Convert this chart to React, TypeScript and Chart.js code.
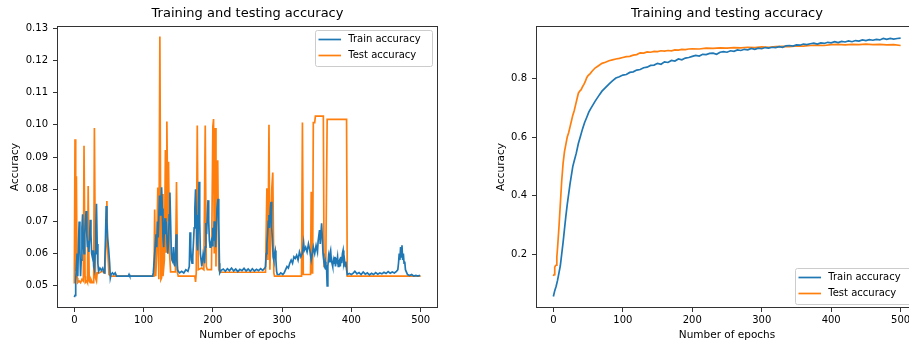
import React, { useEffect, useRef } from "react";
import { Chart, registerables } from "chart.js";
Chart.register(...registerables);

const FONT = "'DejaVu Sans', sans-serif";
const BLUE = "#1f77b4";
const ORANGE = "#ff7f0e";
const TITLE = "Training and testing accuracy";
const X_LABEL = "Number of epochs";
const Y_LABEL = "Accuracy";
const SERIES_NAMES = ["Train accuracy", "Test accuracy"];

const xTicks = [0, 100, 200, 300, 400, 500];
const leftYTicks = [0.05, 0.06, 0.07, 0.08, 0.09, 0.1, 0.11, 0.12, 0.13];
const rightYTicks = [0.2, 0.4, 0.6, 0.8];

// ---- Left chart: train accuracy ----
const leftTrainEpochs = [
  0, 1, 2, 3, 4, 5, 6, 7, 8, 9, 10, 11, 12, 13, 14, 15, 16, 17, 18, 19, 20, 21, 22, 23, 24, 25, 26, 27, 28, 29, 30, 31, 32, 33, 34, 35, 37, 39, 41, 43, 44, 45, 46, 47, 48, 49.5, 51, 52, 53, 55, 57, 59, 61, 78, 79, 80, 113,
  114, 116, 118, 119, 120, 121, 123, 124, 125, 126, 127, 128, 129, 130, 131, 132, 133, 134, 135, 136, 137, 138, 139, 140, 141, 142, 143, 144, 145, 146, 147, 148, 149, 150, 152, 155, 158, 161, 164, 166, 167, 168, 169, 170, 171, 173, 174, 175, 176, 177, 178, 179, 180, 181, 182, 183, 184, 185, 186, 187, 188, 189, 190, 191, 192, 193, 194, 195, 196, 197, 198, 199, 200, 201, 202, 203, 204, 205, 206, 207.5, 208.5, 209.5, 210,
  212, 215, 218, 221, 224, 227, 230, 233, 236, 239, 242, 245, 248, 251, 254, 257, 260, 263, 266, 269, 272, 275,
  276, 277, 278, 279, 280, 281, 282, 283, 284, 285, 286, 287, 288, 289, 290, 291, 292, 293, 296, 298, 301, 303, 305, 307, 309, 311, 313, 315, 317, 319, 321, 323, 325, 327, 329, 331, 332, 334, 336, 338, 340, 342, 344, 345, 347, 349, 351, 352, 354, 355, 357, 358, 359, 360, 361, 362, 363, 364, 365, 366, 367, 368, 369, 370, 371, 372, 373, 374, 375, 376, 377, 378, 379, 380, 381, 382, 383, 384, 385, 386, 387, 388, 389, 390, 391, 392, 393, 394,
  397, 400, 403, 405, 408, 411, 414, 417, 420, 423, 426, 429, 432, 435, 438, 441, 444, 447, 450, 453, 456, 459, 462, 465, 467, 468, 469, 470, 471, 472, 473, 474, 475, 476, 477, 478, 479, 481, 484, 487, 490, 493, 496, 499,
];
const leftTrainAcc = [
  0.0465, 0.047, 0.052, 0.056, 0.06, 0.053, 0.063, 0.07, 0.062, 0.053, 0.058, 0.068, 0.0722, 0.063, 0.06, 0.066, 0.07, 0.0732, 0.066, 0.062, 0.064, 0.0605, 0.065, 0.0705, 0.066, 0.06, 0.059, 0.061, 0.056, 0.055, 0.06, 0.068, 0.0755, 0.063, 0.057, 0.0545, 0.0555, 0.0548, 0.0555, 0.054, 0.057, 0.065, 0.0748, 0.07, 0.065, 0.0616, 0.057, 0.0525, 0.0535, 0.054, 0.0535, 0.054, 0.053, 0.053, 0.0535, 0.053, 0.053,
  0.054, 0.06, 0.066, 0.062, 0.07, 0.065, 0.078, 0.072, 0.076, 0.0806, 0.074, 0.065, 0.062, 0.068, 0.071, 0.066, 0.07, 0.063, 0.06, 0.064, 0.072, 0.079, 0.07, 0.06, 0.058, 0.0575, 0.062, 0.058, 0.056, 0.06, 0.066, 0.058, 0.055, 0.0545, 0.054, 0.0545, 0.054, 0.055, 0.0545, 0.056, 0.0666, 0.062, 0.058, 0.057, 0.059, 0.068, 0.074, 0.08, 0.072, 0.063, 0.061, 0.07, 0.0823, 0.07, 0.06, 0.058, 0.056, 0.058, 0.06, 0.059, 0.057, 0.062, 0.0695, 0.066, 0.072, 0.0766, 0.07, 0.064, 0.062, 0.063, 0.064, 0.0625, 0.068, 0.064, 0.07, 0.066, 0.062, 0.068, 0.074, 0.077, 0.07, 0.057, 0.054,
  0.0548, 0.0552, 0.0545, 0.0553, 0.0547, 0.0555, 0.0546, 0.0552, 0.0544, 0.0551, 0.0547, 0.0554, 0.0546, 0.0552, 0.0545, 0.0553, 0.0546, 0.0551, 0.0547, 0.0553, 0.0548, 0.0555,
  0.056, 0.06, 0.063, 0.066, 0.07, 0.072, 0.068, 0.074, 0.0761, 0.068, 0.064, 0.059, 0.058, 0.06, 0.061, 0.058, 0.0545, 0.0535, 0.0535, 0.054, 0.0535, 0.054, 0.055, 0.056, 0.0555, 0.057, 0.058, 0.057, 0.059, 0.0585, 0.0595, 0.058, 0.0605, 0.059, 0.06, 0.0634, 0.061, 0.062, 0.0605, 0.063, 0.061, 0.058, 0.0605, 0.062, 0.06, 0.0625, 0.0605, 0.064, 0.0673, 0.063, 0.0694, 0.065, 0.06, 0.058, 0.0565, 0.0575, 0.055, 0.0564, 0.05, 0.056, 0.059, 0.0575, 0.06, 0.061, 0.058, 0.057, 0.056, 0.058, 0.057, 0.059, 0.056, 0.058, 0.0575, 0.059, 0.056, 0.0575, 0.058, 0.056, 0.059, 0.057, 0.06, 0.061, 0.057, 0.058, 0.056, 0.0575, 0.055, 0.0535,
  0.0538, 0.0535, 0.054, 0.0545, 0.0537, 0.0541, 0.0535, 0.0543, 0.0536, 0.054, 0.0534, 0.0539, 0.0535, 0.0541, 0.0536, 0.054, 0.0537, 0.0542, 0.0538, 0.0544, 0.0539, 0.0543, 0.054, 0.0545, 0.055, 0.057, 0.06, 0.058, 0.062, 0.059, 0.0626, 0.058, 0.06, 0.057, 0.0575, 0.055, 0.0545, 0.0535, 0.0532, 0.0535, 0.053, 0.0532, 0.053, 0.0533,
];

// ---- Left chart: test accuracy ----
const leftTestEpochs = [
  0, 1, 2, 3, 4, 5, 7, 9, 11, 13, 14, 15.5, 16, 18, 19, 20, 21.5, 23, 24, 26, 28, 29, 30.5, 32, 33, 36, 40, 44, 46, 47, 48, 50, 53, 115,
  116, 117.5, 119, 120.5, 122, 123.5, 125, 126, 127, 128, 130, 131.5, 132.5, 133.6, 135, 136, 137.5, 139, 146, 147.5, 149, 150, 174, 175, 176, 177.5, 179, 184, 187, 189, 190.5, 192, 198, 200, 201, 202, 203.5, 204.5, 205.5, 207, 208.5, 210,
  276, 278, 279.5, 281, 282.3, 283, 285, 286.5, 288, 289, 328, 329.3, 330.5, 341, 342, 343, 344, 345, 347, 348, 359.5, 360.5, 363, 365, 393, 394, 500,
];
const leftTestAcc = [
  0.0507, 0.0955, 0.0545, 0.084, 0.0525, 0.051, 0.0515, 0.051, 0.052, 0.0515, 0.0935, 0.053, 0.051, 0.0515, 0.051, 0.081, 0.0515, 0.051, 0.052, 0.051, 0.051, 0.099, 0.0525, 0.0515, 0.054, 0.054, 0.0545, 0.054, 0.065, 0.0763, 0.062, 0.0535, 0.053, 0.053,
  0.0737, 0.053, 0.06, 0.0805, 0.052, 0.1274, 0.052, 0.0525, 0.0785, 0.053, 0.058, 0.0922, 0.0605, 0.101, 0.07, 0.0885, 0.06, 0.0543, 0.0543, 0.0822, 0.054, 0.053, 0.053, 0.0512, 0.054, 0.0998, 0.055, 0.0555, 0.055, 0.0998, 0.056, 0.055, 0.055, 0.0995, 0.1018, 0.06, 0.099, 0.056, 0.077, 0.089, 0.055, 0.0542,
  0.0542, 0.0803, 0.058, 0.1, 0.055, 0.06, 0.08, 0.0852, 0.054, 0.053, 0.053, 0.1007, 0.0535, 0.0535, 0.0792, 0.054, 0.054, 0.1007, 0.1007, 0.1027, 0.1027, 0.056, 0.056, 0.1017, 0.1017, 0.053, 0.053,
];

// ---- Right chart: train accuracy ----
const rightTrainEpochs = [
  0, 2, 4, 6, 8, 10, 12, 14, 16, 18, 20, 22, 24, 26, 28, 30, 33, 36, 39, 42, 45, 48, 51, 54, 57, 60, 65, 70, 75, 80, 85, 90, 95, 100,
  105, 110, 115, 120, 125, 130, 135, 140, 145, 150, 155, 160, 165, 170, 175, 180, 185, 190, 195, 200, 205, 210, 215, 220, 225, 230, 235, 240, 245, 250,
  255, 260, 265, 270, 275, 280, 285, 290, 295, 300, 305, 310, 315, 320, 325, 330, 335, 340, 345, 350, 355, 360, 365, 370, 375, 380, 385, 390, 395, 400,
  405, 410, 415, 420, 425, 430, 435, 440, 445, 450, 455, 460, 465, 470, 475, 480, 485, 490, 495, 500,
];
const rightTrainAcc = [
  0.055, 0.075, 0.09, 0.11, 0.135, 0.16, 0.2, 0.24, 0.285, 0.33, 0.37, 0.405, 0.44, 0.47, 0.5, 0.518, 0.545, 0.578, 0.603, 0.628, 0.65, 0.667, 0.685, 0.698, 0.71, 0.722, 0.74, 0.757, 0.769, 0.781, 0.792, 0.802, 0.806, 0.812,
  0.814, 0.821, 0.823, 0.829, 0.831, 0.837, 0.839, 0.845, 0.846, 0.852, 0.849, 0.857, 0.855, 0.862, 0.86, 0.867, 0.864, 0.87, 0.872, 0.876, 0.879, 0.877, 0.883, 0.882, 0.886, 0.887, 0.883, 0.89, 0.892, 0.89,
  0.895, 0.893, 0.898, 0.896, 0.9, 0.898, 0.903, 0.9, 0.904, 0.902, 0.906, 0.904, 0.907, 0.906, 0.909, 0.907, 0.912, 0.913, 0.911, 0.915, 0.914, 0.918, 0.916, 0.919, 0.921, 0.918, 0.922, 0.92, 0.924, 0.922,
  0.926, 0.923, 0.927, 0.925, 0.929, 0.926, 0.93, 0.928, 0.932, 0.93, 0.933, 0.931, 0.934, 0.932, 0.937, 0.934, 0.937, 0.935, 0.937, 0.938,
];

// ---- Right chart: test accuracy ----
const rightTestEpochs = [
  0, 1, 2, 3, 4, 5, 6, 8, 10, 12, 14, 16, 18, 20, 22, 24, 26, 28, 30, 32, 34, 36, 38, 40, 42, 44, 46, 48, 50, 53, 56, 60, 65, 70, 75, 80, 85, 90, 95, 100,
  105, 110, 115, 120, 125, 130, 135, 140, 145, 150, 155, 160, 165, 170, 175, 180, 185, 190, 195, 200,
  210, 220, 230, 240, 250, 260, 270, 280, 290, 300, 310, 320, 330, 340, 350, 360, 370, 380, 390, 400,
  410, 420, 430, 440, 450, 460, 470, 480, 490, 500,
];
const rightTestAcc = [
  0.125, 0.13, 0.155, 0.16, 0.162, 0.19, 0.22, 0.29, 0.37, 0.45, 0.51, 0.55, 0.575, 0.6, 0.615, 0.635, 0.655, 0.675, 0.69, 0.71, 0.73, 0.75, 0.757, 0.762, 0.772, 0.78, 0.79, 0.803, 0.81, 0.817, 0.826, 0.836, 0.844, 0.852, 0.856, 0.861, 0.864, 0.867, 0.869, 0.872,
  0.875, 0.876, 0.88, 0.882, 0.888, 0.887, 0.891, 0.89, 0.893, 0.892, 0.895, 0.894, 0.896, 0.895, 0.898, 0.897, 0.9, 0.899, 0.901, 0.902,
  0.901, 0.904, 0.903, 0.905, 0.904, 0.906, 0.905, 0.907, 0.906, 0.908, 0.907, 0.909, 0.91, 0.909, 0.912, 0.911, 0.913, 0.914, 0.913, 0.916,
  0.917, 0.915, 0.917, 0.916, 0.918, 0.916, 0.917, 0.915, 0.916, 0.913,
];

const toPoints = (xs: number[], ys: number[]) => xs.map((x, i) => ({ x, y: ys[i] }));

const framePlugin = {
  id: "frame",
  afterDatasetsDraw(chart: any) {
    const { ctx, chartArea: a } = chart;
    ctx.save();
    ctx.strokeStyle = "#333333";
    ctx.lineWidth = 1;
    ctx.strokeRect(Math.round(a.left) + 0.5, Math.round(a.top) + 0.5, Math.round(a.right - a.left) - 1, Math.round(a.bottom - a.top) - 1);
    ctx.restore();
  },
};

const boxLegendPlugin = {
  id: "boxLegend",
  afterDraw(chart: any, _args: any, opts: any) {
    const { ctx, chartArea: a } = chart;
    const w = 117;
    const h = 36;
    const x = Math.round(a.right - 5.7 - w);
    const y = Math.round(opts.position === "bottom" ? a.bottom - 4 - h : a.top + 4);
    ctx.save();
    ctx.beginPath();
    if (ctx.roundRect) ctx.roundRect(x + 0.5, y + 0.5, w, h, 2);
    else ctx.rect(x + 0.5, y + 0.5, w, h);
    ctx.fillStyle = "rgba(255,255,255,0.8)";
    ctx.fill();
    ctx.strokeStyle = "#cccccc";
    ctx.lineWidth = 1;
    ctx.stroke();
    chart.data.datasets.forEach((ds: any, i: number) => {
      const ry = y + 9.5 + i * 16;
      ctx.beginPath();
      ctx.moveTo(x + 3.5, ry);
      ctx.lineTo(x + 26, ry);
      ctx.strokeStyle = ds.borderColor;
      ctx.lineWidth = 1.7;
      ctx.stroke();
      ctx.fillStyle = "#000";
      ctx.font = `10px ${FONT}`;
      ctx.textBaseline = "middle";
      ctx.textAlign = "left";
      ctx.fillText(ds.label, x + 33.3, ry);
    });
    ctx.restore();
  },
};

function makeConfig(opts: {
  train: { x: number; y: number }[];
  test: { x: number; y: number }[];
  yMin: number;
  yMax: number;
  yTicks: number[];
  yDigits: number;
  yAxisWidth: number;
  yTitlePad: number;
  padRight: number;
  legendPos: string;
}): any {
  const tickFont = { family: FONT, size: 10 };
  const labelFont = { family: FONT, size: 10.5 };
  return {
    type: "line",
    data: {
      datasets: [
        { label: SERIES_NAMES[0], data: opts.train, borderColor: BLUE, backgroundColor: BLUE, borderWidth: 1.7, pointRadius: 0, tension: 0, fill: false },
        { label: SERIES_NAMES[1], data: opts.test, borderColor: ORANGE, backgroundColor: ORANGE, borderWidth: 1.7, pointRadius: 0, tension: 0, fill: false },
      ],
    },
    options: {
      responsive: false,
      animation: false,
      events: [],
      layout: { padding: { left: 0, right: opts.padRight, top: 0, bottom: 0 } },
      plugins: {
        legend: { display: false },
        tooltip: { enabled: false },
        title: {
          display: true,
          text: TITLE,
          fullSize: false,
          color: "#000",
          font: { family: FONT, size: 13, weight: "normal" },
          padding: { top: 5.5, bottom: 4.9 },
        },
        boxLegend: { position: opts.legendPos },
      },
      scales: {
        x: {
          type: "linear",
          min: -25,
          max: 525,
          afterBuildTicks: (s: any) => {
            s.ticks = xTicks.map((v) => ({ value: v }));
          },
          afterFit: (s: any) => {
            s.height = 39;
          },
          grid: { display: true, drawOnChartArea: false, drawTicks: true, tickLength: 4, color: "#333333" },
          border: { display: false },
          ticks: { font: tickFont, color: "#000", padding: 2, maxRotation: 0, autoSkip: false, callback: (v: any) => String(v) },
          title: { display: true, text: X_LABEL, color: "#000", font: labelFont, padding: { top: 0, bottom: 5 } },
        },
        y: {
          type: "linear",
          min: opts.yMin,
          max: opts.yMax,
          afterBuildTicks: (s: any) => {
            s.ticks = opts.yTicks.map((v) => ({ value: v }));
          },
          afterFit: (s: any) => {
            s.width = opts.yAxisWidth;
          },
          grid: { display: true, drawOnChartArea: false, drawTicks: true, tickLength: 4, color: "#333333" },
          border: { display: false },
          ticks: { font: tickFont, color: "#000", padding: 5, autoSkip: false, callback: (v: any) => Number(v).toFixed(opts.yDigits) },
          title: { display: true, text: Y_LABEL, color: "#000", font: labelFont, padding: { top: opts.yTitlePad, bottom: 0 } },
        },
      },
    },
    plugins: [framePlugin, boxLegendPlugin],
  };
}

function ChartCanvas(props: { left: number; width: number; config: () => any }) {
  const ref = useRef<HTMLCanvasElement | null>(null);
  useEffect(() => {
    if (!ref.current) return;
    const chart = new Chart(ref.current, props.config());
    return () => chart.destroy();
  }, []);
  return (
    <canvas
      ref={ref}
      width={props.width}
      height={347}
      style={{ position: "absolute", left: props.left, top: 0, width: props.width, height: 347 }}
    />
  );
}

export default function App() {
  return (
    <div style={{ position: "fixed", left: 0, top: 0, width: 909, height: 347, overflow: "hidden", background: "#fff" }}>
      <ChartCanvas
        left={0}
        width={460}
        config={() =>
          makeConfig({
            train: toPoints(leftTrainEpochs, leftTrainAcc),
            test: toPoints(leftTestEpochs, leftTestAcc),
            yMin: 0.0431,
            yMax: 0.1307,
            yTicks: leftYTicks,
            yDigits: 2,
            yAxisWidth: 57,
            yTitlePad: 8.7,
            padRight: 22,
            legendPos: "top",
          })
        }
      />
      <ChartCanvas
        left={460}
        width={470}
        config={() =>
          makeConfig({
            train: toPoints(rightTrainEpochs, rightTrainAcc),
            test: toPoints(rightTestEpochs, rightTestAcc),
            yMin: 0.0156,
            yMax: 0.9797,
            yTicks: rightYTicks,
            yDigits: 1,
            yAxisWidth: 76,
            yTitlePad: 35.4,
            padRight: 12,
            legendPos: "bottom",
          })
        }
      />
    </div>
  );
}
